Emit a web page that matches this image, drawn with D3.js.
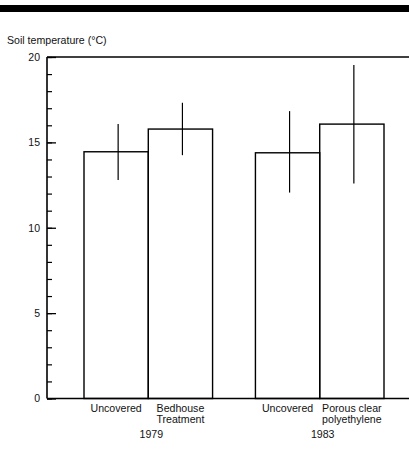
<!DOCTYPE html>
<html>
<head>
<meta charset="utf-8">
<script src="https://cdn.jsdelivr.net/npm/d3@7"></script>
<style>
  html, body { margin: 0; padding: 0; background: #fff; }
  text { font-family: "Liberation Sans", Arial, Helvetica, sans-serif; fill: #111; }
</style>
</head>
<body>
<div id="chart"></div>
<script>
// Data
const years = ['1979', '1983'];
const treatments = [
  ['Uncovered', 'Bedhouse\nTreatment'],
  ['Uncovered', 'Porous clear\npolyethylene']
];
const meanTemp = [14.45, 15.78, 14.39, 16.07];
const errLow = [12.79, 14.25, 12.06, 12.59];
const errHigh = [16.07, 17.32, 16.83, 19.53];
const yTicks = [0, 5, 10, 15, 20];

const width = 409;
const height = 468;
const axisX = 47;
const yTop = 57;
const yBottom = 398.5;

// build flat rows from the arrays
const rows = [];
years.forEach((yr, gi) => {
  treatments[gi].forEach((t, ti) => {
    const i = gi * 2 + ti;
    rows.push({ year: yr, key: yr + '-' + ti, label: t, mean: meanTemp[i], lo: errLow[i], hi: errHigh[i] });
  });
});

const svg = d3.select('#chart').append('svg')
  .attr('width', width)
  .attr('height', height);

// heavy rule across the top of the page
svg.append('rect')
  .attr('x', 0).attr('y', 5)
  .attr('width', width).attr('height', 7)
  .attr('fill', '#000');

// Scales
const x0 = d3.scaleBand()
  .domain(years)
  .range([84, 384])
  .paddingInner(0.25)
  .paddingOuter(0);

const x1 = d3.scaleBand()
  .domain([0, 1])
  .range([0, x0.bandwidth()])
  .padding(0);

const y = d3.scaleLinear()
  .domain([0, 20])
  .range([yBottom, yTop]);

const xPos = d => x0(d.year) + x1(+d.key.split('-')[1]);

// Axis title
svg.append('text')
  .attr('x', 7)
  .attr('y', 44)
  .style('font-size', '10.6px')
  .text('Soil temperature (°C)');

// Y axis: minor ticks every 1, major every 5, drawn inward
const yAxis = svg.append('g')
  .attr('transform', `translate(${axisX},0)`);

yAxis.call(d3.axisRight(y).tickValues(d3.range(0, 21, 1)).tickSize(5).tickFormat(''))
  .call(g => g.select('.domain').remove());
yAxis.selectAll('line').attr('stroke', '#000').attr('stroke-width', 1.2);

const yMajor = svg.append('g')
  .attr('transform', `translate(${axisX},0)`)
  .call(d3.axisRight(y).tickValues(yTicks).tickSize(9).tickFormat(''))
  .call(g => g.select('.domain').remove());
yMajor.selectAll('line').attr('stroke', '#000').attr('stroke-width', 1.3);

const yLabels = svg.append('g')
  .attr('transform', `translate(${axisX},0)`)
  .call(d3.axisLeft(y).tickValues(yTicks).tickSize(0).tickPadding(7).tickFormat(d3.format('d')))
  .call(g => g.select('.domain').remove());
yLabels.selectAll('text')
  .style('font-size', '10.5px')
  .style('font-family', '"Liberation Sans", Arial, sans-serif')
  .attr('fill', '#111');

// frame: left axis, baseline and top line
svg.append('line')
  .attr('x1', axisX).attr('x2', axisX)
  .attr('y1', y(20)).attr('y2', y(0))
  .attr('stroke', '#000').attr('stroke-width', 1.6);
svg.append('line')
  .attr('x1', axisX).attr('x2', width)
  .attr('y1', y(0)).attr('y2', y(0))
  .attr('stroke', '#000').attr('stroke-width', 1.6);
svg.append('line')
  .attr('x1', axisX).attr('x2', width)
  .attr('y1', y(20)).attr('y2', y(20))
  .attr('stroke', '#000').attr('stroke-width', 1.6);

// Bars
svg.selectAll('.bar')
  .data(rows)
  .enter()
  .append('rect')
  .attr('class', 'bar')
  .attr('x', d => xPos(d))
  .attr('y', d => y(d.mean))
  .attr('width', x1.bandwidth())
  .attr('height', d => y(0) - y(d.mean))
  .attr('fill', 'none')
  .attr('stroke', '#000')
  .attr('stroke-width', 1.4);

// Error bars (vertical line only)
const errDx = 2;
svg.selectAll('.err')
  .data(rows)
  .enter()
  .append('line')
  .attr('class', 'err')
  .attr('x1', d => xPos(d) + x1.bandwidth() / 2 + errDx)
  .attr('x2', d => xPos(d) + x1.bandwidth() / 2 + errDx)
  .attr('y1', d => y(d.hi))
  .attr('y2', d => y(d.lo))
  .attr('stroke', '#000')
  .attr('stroke-width', 1.2);

// Category labels under each bar
const catLabels = svg.selectAll('.cat')
  .data(rows)
  .enter()
  .append('text')
  .attr('class', 'cat')
  .attr('text-anchor', 'middle')
  .attr('x', d => xPos(d) + x1.bandwidth() / 2)
  .attr('y', 412)
  .style('font-size', '10.6px');

catLabels.each(function(d) {
  const lines = d.label.split('\n');
  d3.select(this).selectAll('tspan')
    .data(lines)
    .enter()
    .append('tspan')
    .attr('x', xPos(d) + x1.bandwidth() / 2)
    .attr('dy', (l, i) => i === 0 ? 0 : 11)
    .text(l => l);
});

// Year labels under each group
svg.selectAll('.year')
  .data(years)
  .enter()
  .append('text')
  .attr('class', 'year')
  .attr('text-anchor', 'middle')
  .attr('x', d => x0(d) + x0.bandwidth() / 2 + 3)
  .attr('y', 438)
  .style('font-size', '10.6px')
  .text(d => d);
</script>
</body>
</html>
